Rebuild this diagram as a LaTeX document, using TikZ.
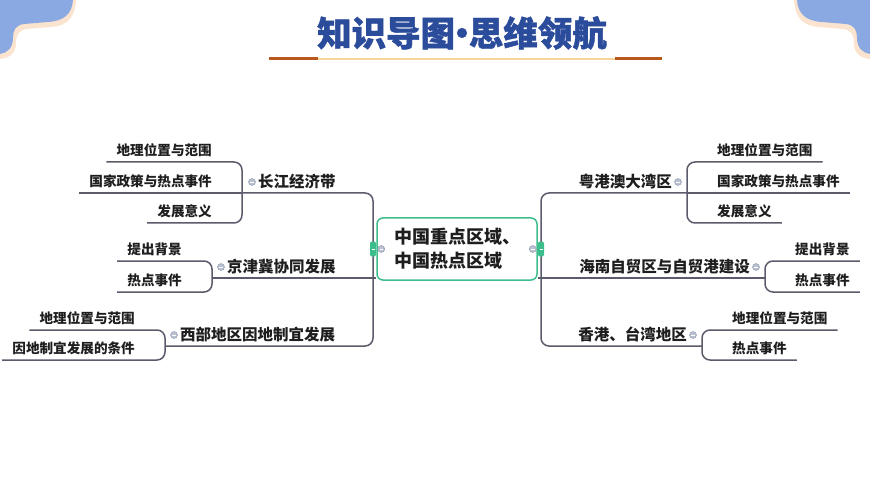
\documentclass[tikz,border=0pt]{standalone}
\usepackage{fontspec}
\newfontfamily\cjk{Noto Sans CJK SC}
\newfontfamily\titlecjk{Noto Sans CJK SC}[BoldFeatures={FakeBold=1.2}]
\usepackage{xcolor}
\usetikzlibrary{positioning}
\definecolor{linegray}{HTML}{5B5B6B}
\definecolor{hubgreen}{HTML}{3DBD8C}
\definecolor{mkc}{HTML}{8A96B0}
\definecolor{txt}{HTML}{1E1E1E}
\definecolor{titleblue}{HTML}{2B4B9B}
\definecolor{rust}{HTML}{B9581C}
\definecolor{peach}{HTML}{F6D59A}
\definecolor{cornerblue}{HTML}{8AA8E2}
\definecolor{cornershade}{HTML}{FBE4CF}

\begin{document}
\begin{tikzpicture}[
  x=1pt, y=-1pt,
  branch/.style={draw=linegray, line width=1.5pt, rounded corners=8pt},
  hub/.style={rectangle, rounded corners=6pt, draw=hubgreen, line width=1.5pt, minimum width=160pt, minimum height=62pt, align=left, text=txt, font=\cjk\bfseries\fontsize{18}{24}\selectfont},
  topic/.style={inner xsep=15pt, inner ysep=3pt, text height=11pt, text depth=2pt, text=txt, font=\cjk\bfseries\fontsize{15.5}{18}\selectfont},
  leaf/.style={inner xsep=10pt, inner ysep=4pt, text height=10pt, text depth=2pt, text=txt, font=\cjk\bfseries\fontsize{13.6}{16}\selectfont},
  mk/.style={circle, draw=mkc, fill=mkc!60, inner sep=0pt, minimum size=7pt},
  tab/.style={rectangle, rounded corners=2pt, fill=hubgreen, inner sep=0pt, minimum width=6pt, minimum height=15pt}
]
\useasboundingbox (0,0) rectangle (870,489);

% corner decorations
\fill[cornershade] (3,0) -- (76,0) .. controls (75,18) and (67,26) .. (51,27) -- (27,29) .. controls (18,30) and (16,36) .. (16,43) .. controls (16,53) and (10,58) .. (0,59) -- (0,5) -- cycle;
\fill[cornerblue] (0,0) -- (73,0) .. controls (72,14) and (64,21) .. (48,22) -- (24,24) .. controls (15,25) and (13,31) .. (13,38) .. controls (13,48) and (7,53) .. (0,54) -- cycle;
\begin{scope}[shift={(870,0)}, xscale=-1]
\fill[cornershade] (3,0) -- (76,0) .. controls (75,18) and (67,26) .. (51,27) -- (27,29) .. controls (18,30) and (16,36) .. (16,43) .. controls (16,53) and (10,58) .. (0,59) -- (0,5) -- cycle;
\fill[cornerblue] (0,0) -- (73,0) .. controls (72,14) and (64,21) .. (48,22) -- (24,24) .. controls (15,25) and (13,31) .. (13,38) .. controls (13,48) and (7,53) .. (0,54) -- cycle;
\end{scope}

% title
\node[text=titleblue, font=\titlecjk\bfseries\fontsize{34.5}{38}\selectfont] (title) at (462,33) {知识导图\kern-.3em•\kern-.3em思维领航};
\coordinate (ul) at (269,59);
\coordinate (ur) at (662,59);
\draw[peach, line width=1.5pt] (ul) -- (ur);
\draw[rust, line width=3pt] (ul) -- ++(49,0);
\draw[rust, line width=3pt] (ur) -- ++(-47,0);

% centre
\node[hub] (hub) at (457,249) {中国重点区域、\\中国热点区域};
\coordinate (trunkL) at (373,249);
\coordinate (trunkR) at (541,249);

% junctions
\coordinate (jA) at (242,193);
\coordinate (jB) at (212,278);
\coordinate (jC) at (165,346);
\coordinate (kA) at (687,193);
\coordinate (kB) at (765,278);
\coordinate (kC) at (702,346);

% left topics
\node[topic, anchor=south west, inner xsep=16pt] (tA) at (jA) {长江经济带};
\node[topic, anchor=south west] (tB) at (jB) {京津冀协同发展};
\node[topic, anchor=south west] (tC) at (jC) {西部地区因地制宜发展};

% left leaves
\node[leaf, anchor=south east] (a1) at (222,162) {地理位置与范围};
\node[leaf, anchor=south east] (a2) at (222,193) {国家政策与热点事件};
\node[leaf, anchor=south east] (a3) at (222,223) {发展意义};
\node[leaf, anchor=south east] (b1) at (192,261) {提出背景};
\node[leaf, anchor=south east] (b2) at (192,292) {热点事件};
\node[leaf, anchor=south east] (c1) at (145,330) {地理位置与范围};
\node[leaf, anchor=south east] (c2) at (145,360) {因地制宜发展的条件};

% right topics
\node[topic, anchor=south east] (uA) at (kA) {粤港澳大湾区};
\node[topic, anchor=south east] (uB) at (kB) {海南自贸区与自贸港建设};
\node[topic, anchor=south east] (uC) at (kC) {香港、台湾地区};

% right leaves
\node[leaf, anchor=south west] (d1) at (707,162) {地理位置与范围};
\node[leaf, anchor=south west] (d2) at (707,193) {国家政策与热点事件};
\node[leaf, anchor=south west] (d3) at (707,223) {发展意义};
\node[leaf, anchor=south west] (e1) at (785,261) {提出背景};
\node[leaf, anchor=south west] (e2) at (785,292) {热点事件};
\node[leaf, anchor=south west] (f1) at (722,330) {地理位置与范围};
\node[leaf, anchor=south west] (f2) at (722,360) {热点事件};

% trunks
\draw[branch] (jA) -- (jA -| trunkL) -- (jC -| trunkL) -- (jC);
\draw[branch] (jB) -- (jB -| hub.west);
\draw[branch] (kA) -- (kA -| trunkR) -- (kC -| trunkR) -- (kC);
\draw[branch] (kB -| hub.east) -- (kB);

% left brackets
\draw[branch] (a1.south west) -- (a1.south -| jA) -- (a3.south -| jA) -- (a3.south west);
\draw[branch] (a2.south west) -- (jA);
\draw[branch] (b1.south west) -- (b1.south -| jB) -- (b2.south -| jB) -- (b2.south west);
\draw[branch] (c1.south west) -- (c1.south -| jC) -- (c2.south -| jC) -- (c2.south west);

% right brackets
\draw[branch] (d1.south east) -- (d1.south -| kA) -- (d3.south -| kA) -- (d3.south east);
\draw[branch] (d2.south east) -- (kA);
\draw[branch] (e1.south east) -- (e1.south -| kB) -- (e2.south -| kB) -- (e2.south east);
\draw[branch] (f1.south east) -- (f1.south -| kC) -- (f2.south -| kC) -- (f2.south east);

% collapse markers
\node[mk] at ([xshift=10pt, yshift=11pt]jA) {\textcolor{white}{\rule{3.5pt}{0.8pt}}};
\node[mk] at ([xshift=9pt, yshift=11pt]jB) {\textcolor{white}{\rule{3.5pt}{0.8pt}}};
\node[mk] at ([xshift=9pt, yshift=11pt]jC) {\textcolor{white}{\rule{3.5pt}{0.8pt}}};
\node[mk] at ([xshift=-9pt, yshift=11pt]kA) {\textcolor{white}{\rule{3.5pt}{0.8pt}}};
\node[mk] at ([xshift=-9pt, yshift=11pt]kB) {\textcolor{white}{\rule{3.5pt}{0.8pt}}};
\node[mk] at ([xshift=-9pt, yshift=11pt]kC) {\textcolor{white}{\rule{3.5pt}{0.8pt}}};

% hub tabs
\node[tab] (tabL) at (trunkL) {\textcolor{white}{\rule{3pt}{0.8pt}}};
\node[tab] (tabR) at (trunkR) {\textcolor{white}{\rule{3pt}{0.8pt}}};
\node[mk] at ([xshift=5pt]hub.west) {\textcolor{white}{\rule{3.5pt}{0.8pt}}};
\node[mk] at ([xshift=-5pt]hub.east) {\textcolor{white}{\rule{3.5pt}{0.8pt}}};
\end{tikzpicture}
\end{document}
